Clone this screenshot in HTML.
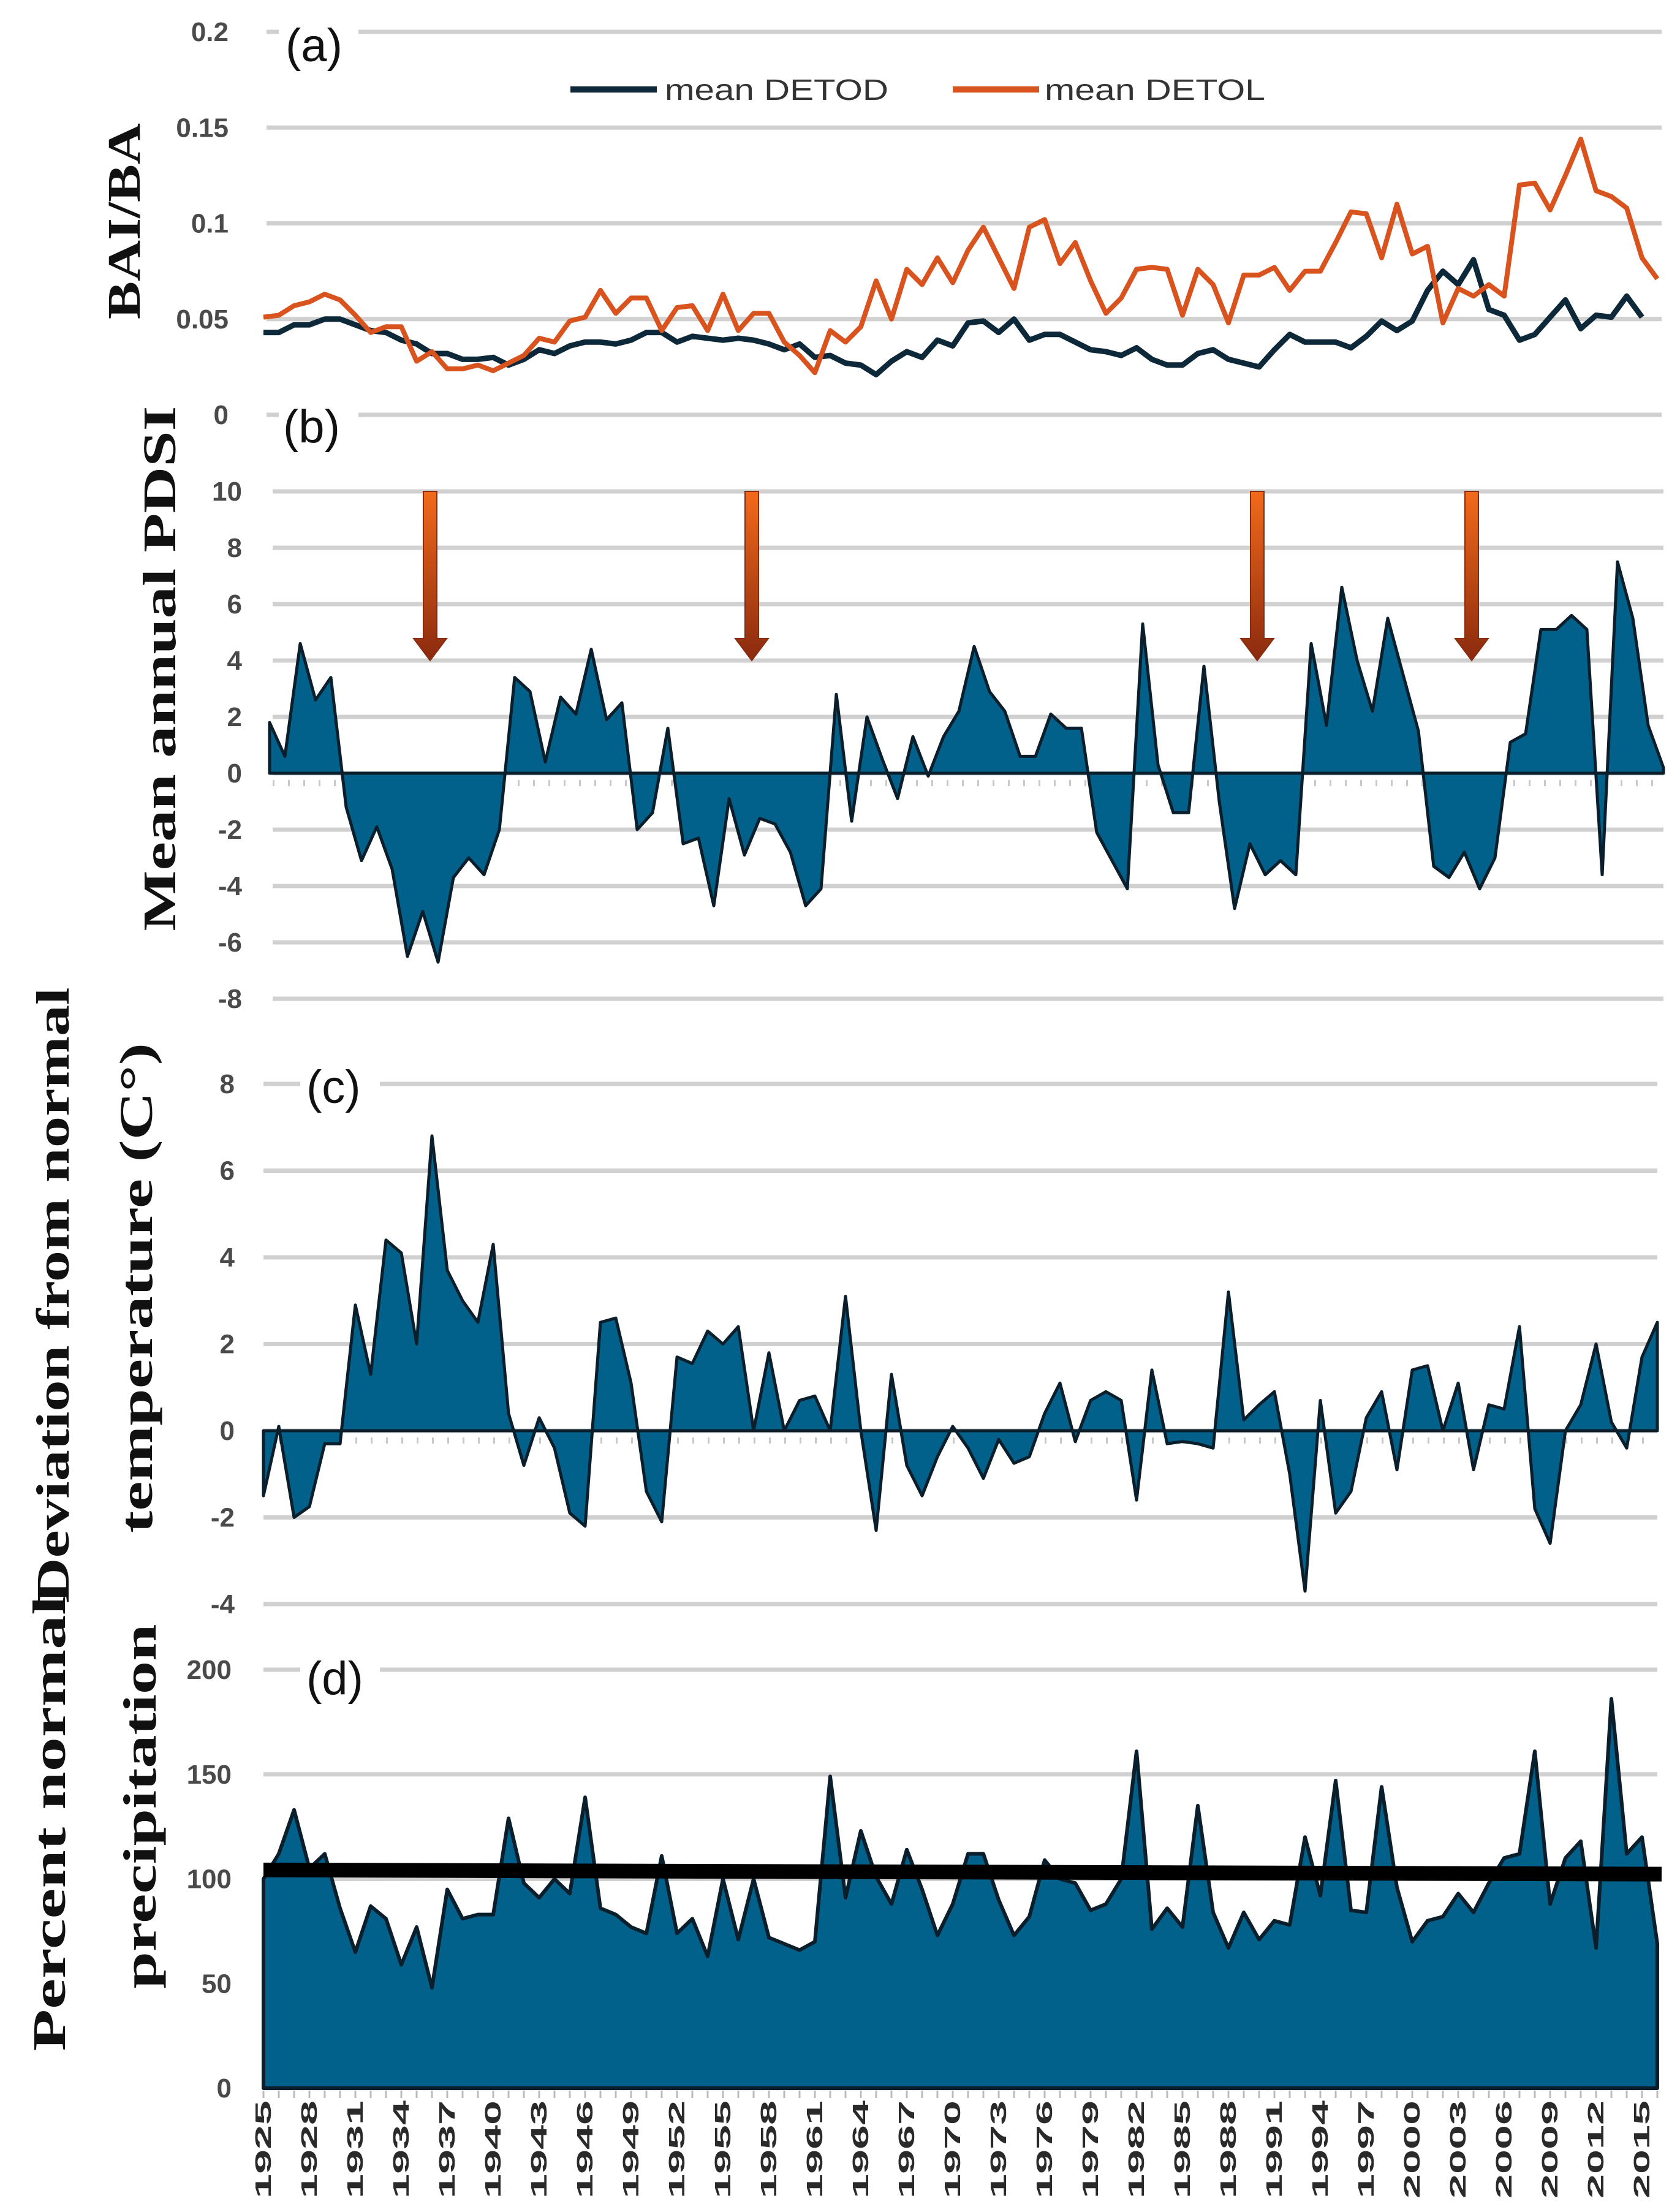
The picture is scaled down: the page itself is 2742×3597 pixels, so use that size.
<!DOCTYPE html>
<html><head><meta charset="utf-8"><title>BAI/BA, PDSI, temperature and precipitation</title>
<style>
html,body{margin:0;padding:0;background:#fff;}
svg{display:block;}
</style></head>
<body>
<svg id="chart" xmlns="http://www.w3.org/2000/svg" width="2742" height="3597" viewBox="0 0 2742 3597">
<defs>
<linearGradient id="arrowGrad" x1="0" y1="0" x2="0" y2="1">
<stop offset="0" stop-color="#f26a1b"/><stop offset="1" stop-color="#8a2a0e"/>
</linearGradient>
</defs>
<g id="grid"></g>
<g id="marks"></g>
<g id="labels"></g>
</svg>
<script>
// ---- data ----
const years = [];
for (let y = 1925; y <= 2016; y++) years.push(y);

const detod = [
0.043,0.043,0.047,0.047,0.050,
0.050,0.047,0.044,0.043,0.039,
0.037,0.032,0.032,0.029,0.029,
0.030,0.026,0.029,0.034,0.032,
0.036,0.038,0.038,0.037,0.039,
0.043,0.043,0.038,0.041,0.040,
0.039,0.040,0.039,0.037,0.034,
0.037,0.030,0.031,0.027,0.026,
0.021,0.028,0.033,0.030,0.039,
0.036,0.048,0.049,0.043,0.050,
0.039,0.042,0.042,0.038,0.034,
0.033,0.031,0.035,0.029,0.026,
0.026,0.032,0.034,0.029,0.027,
0.025,0.034,0.042,0.038,0.038,
0.038,0.035,0.041,0.049,0.044,
0.049,0.065,0.075,0.068,0.081,
0.055,0.052,0.039,0.042,0.051,
0.060,0.045,0.052,0.051,0.062,
0.051];
const detol = [
0.051,0.052,0.057,0.059,0.063,
0.060,0.052,0.043,0.046,0.046,
0.028,0.033,0.024,0.024,0.026,
0.023,0.027,0.031,0.040,0.038,
0.049,0.051,0.065,0.053,0.061,
0.061,0.044,0.056,0.057,0.044,
0.063,0.044,0.053,0.053,0.038,
0.031,0.022,0.044,0.038,0.046,
0.070,0.050,0.076,0.068,0.082,
0.069,0.086,0.098,0.082,0.066,
0.098,0.102,0.079,0.090,0.070,
0.053,0.061,0.076,0.077,0.076,
0.052,0.076,0.068,0.048,0.073,
0.073,0.077,0.065,0.075,0.075,
0.090,0.106,0.105,0.082,0.110,
0.084,0.088,0.048,0.066,0.062,
0.068,0.062,0.120,0.121,0.107,
0.125,0.144,0.117,0.114,0.108,
0.082,0.071];
const pdsi = [
1.8,0.6,4.6,2.6,3.4,
-1.2,-3.1,-1.9,-3.4,-6.5,
-4.9,-6.7,-3.7,-3.0,-3.6,
-2.0,3.4,2.9,0.4,2.7,
2.1,4.4,1.9,2.5,-2.0,
-1.4,1.6,-2.5,-2.3,-4.7,
-0.9,-2.9,-1.6,-1.8,-2.8,
-4.7,-4.1,2.8,-1.7,2.0,
0.5,-0.9,1.3,-0.1,1.3,
2.2,4.5,2.9,2.2,0.6,
0.6,2.1,1.6,1.6,-2.1,
-3.1,-4.1,5.3,0.3,-1.4,
-1.4,3.8,-1.0,-4.8,-2.5,
-3.6,-3.1,-3.6,4.6,1.7,
6.6,4.0,2.2,5.5,3.5,
1.5,-3.3,-3.7,-2.8,-4.1,
-3.0,1.1,1.4,5.1,5.1,
5.6,5.1,-3.6,7.5,5.5,
1.7,0.2];
const tempDev = [
-1.5,0.1,-2.0,-1.75,-0.3,
-0.3,2.9,1.3,4.4,4.1,
2.0,6.8,3.7,3.0,2.5,
4.3,0.4,-0.8,0.3,-0.4,
-1.9,-2.2,2.5,2.6,1.1,
-1.4,-2.1,1.7,1.55,2.3,
2.0,2.4,0.0,1.8,0.0,
0.7,0.8,0.0,3.1,0.0,
-2.3,1.3,-0.8,-1.5,-0.6,
0.1,-0.4,-1.1,-0.2,-0.75,
-0.6,0.4,1.1,-0.25,0.7,
0.9,0.7,-1.6,1.4,-0.3,
-0.25,-0.3,-0.4,3.2,0.25,
0.6,0.9,-1.0,-3.7,0.7,
-1.9,-1.4,0.3,0.9,-0.9,
1.4,1.5,0.0,1.1,-0.9,
0.6,0.5,2.4,-1.8,-2.6,
0.0,0.6,2.0,0.2,-0.4,
1.7,2.5];
const precip = [
100,112,133,105,112,
86,65,87,81,59,
77,48,95,81,83,
83,129,98,91,100,
93,139,86,83,77,
74,111,74,81,63,
100,71,100,72,69,
66,70,149,91,123,
101,88,114,95,73,
88,112,112,90,73,
82,109,100,98,85,
88,100,161,76,86,
77,135,84,67,84,
71,80,78,120,92,
147,85,84,144,96,
70,80,82,93,84,
98,110,112,161,88,
110,118,67,186,112,
120,69];
const precipNormal = [104.3, 102.3];
const droughtYears = [1935, 1956, 1989, 2003];

const ticksA = [0, 0.05, 0.1, 0.15, 0.2];
const tickLabelsA = ["0", "0.05", "0.1", "0.15", "0.2"];
const ticksB = [10, 8, 6, 4, 2, 0, -2, -4, -6, -8];
const ticksC = [8, 6, 4, 2, 0, -2, -4];
const ticksD = [0, 50, 100, 150, 200];
const xTickYears = [];
for (let y = 1925; y <= 2015; y += 3) xTickYears.push(y);

// ---- helpers ----
const NS = "http://www.w3.org/2000/svg";
const gGrid = document.getElementById("grid");
const gMarks = document.getElementById("marks");
const gLabels = document.getElementById("labels");
function mk(tag, attrs, parent) {
  const e = document.createElementNS(NS, tag);
  for (const k in attrs) e.setAttribute(k, attrs[k]);
  parent.appendChild(e);
  return e;
}
function linScale(d0, d1, r0, r1) { return v => r0 + (v - d0) * (r1 - r0) / (d1 - d0); }

const panels = {
  a: { x: linScale(1925, 2016, 430, 2705), y: linScale(0, 0.2, 677, 52), gx0: 435, gx1: 2712, labelX: 373 },
  b: { x: linScale(1925, 2016, 440, 2715), y: linScale(0, 10, 1262, 802), gx0: 445, gx1: 2715, labelX: 395 },
  c: { x: linScale(1925, 2016, 430, 2705), y: linScale(0, 8, 2335, 1769), gx0: 430, gx1: 2705, labelX: 383 },
  d: { x: linScale(1925, 2016, 430, 2705), y: linScale(0, 200, 3408, 2725), gx0: 430, gx1: 2705, labelX: 378 }
};

function gridAndTicks(p, ticks, labels, key) {
  ticks.forEach((t, i) => {
    const yy = p.y(t);
    const ln = mk("line", { x1: p.gx0, x2: p.gx1, y1: yy, y2: yy, stroke: "#d0d0d0", "stroke-width": 7 }, gGrid);
    
    
    const tx = mk("text", { x: p.labelX, y: yy + 15, "text-anchor": "end", "font-family": "Liberation Sans, sans-serif", "font-size": 44, "font-weight": "600", fill: "#4a4a4a" }, gLabels);
    tx.textContent = labels ? labels[i] : String(t);
    
    
  });
}
gridAndTicks(panels.a, ticksA, tickLabelsA, "a");
gridAndTicks(panels.b, ticksB, null, "b");
gridAndTicks(panels.c, ticksC, null, "c");
gridAndTicks(panels.d, ticksD, null, "d");

function areaPath(p, vals) {
  const y0 = p.y(0);
  let d = "M" + p.x(years[0]).toFixed(1) + "," + y0.toFixed(1);
  vals.forEach((v, i) => { d += " L" + p.x(years[i]).toFixed(1) + "," + p.y(v).toFixed(1); });
  d += " L" + p.x(years[vals.length - 1]).toFixed(1) + "," + y0.toFixed(1) + " Z";
  return d;
}
function linePath(p, vals) {
  return vals.map((v, i) => (i ? "L" : "M") + p.x(years[i]).toFixed(1) + "," + p.y(v).toFixed(1)).join(" ");
}
function zeroComb(p, key) {
  const yy = p.y(0) + 16;
  const ln = mk("line", { x1: p.gx0, x2: p.gx1, y1: yy, y2: yy, stroke: "#c8c8c8", "stroke-width": 10, "stroke-dasharray": "3 22" }, gGrid);
  
  
}
zeroComb(panels.b, "b");
zeroComb(panels.c, "c");

// panel a lines
const lineD = mk("path", { d: linePath(panels.a, detod), fill: "none", stroke: "#0d2838", "stroke-width": 9, "stroke-linejoin": "round" }, gMarks);


const lineL = mk("path", { d: linePath(panels.a, detol), fill: "none", stroke: "#d9531e", "stroke-width": 8, "stroke-linejoin": "round" }, gMarks);



// areas
const areaB = mk("path", { d: areaPath(panels.b, pdsi), fill: "#02618a", stroke: "#0a1e2c", "stroke-width": 5, "stroke-linejoin": "round" }, gMarks);


const areaC = mk("path", { d: areaPath(panels.c, tempDev), fill: "#02618a", stroke: "#0a1e2c", "stroke-width": 5, "stroke-linejoin": "round" }, gMarks);


const areaD = mk("path", { d: areaPath(panels.d, precip), fill: "#02618a", stroke: "#0a1e2c", "stroke-width": 6, "stroke-linejoin": "round" }, gMarks);


const normLine = mk("line", { x1: 430, x2: 2712, y1: panels.d.y(precipNormal[0]), y2: panels.d.y(precipNormal[1]), stroke: "#000", "stroke-width": 24 }, gMarks);



// drought arrows
droughtYears.forEach(yr => {
  const cx = panels.b.x(yr) + 12;
  const top = panels.b.y(10), tip = panels.b.y(4);
  const d = `M${cx-11},${top} L${cx+11},${top} L${cx+11},${tip-36} L${cx+27},${tip-36} L${cx},${tip} L${cx-27},${tip-36} L${cx-11},${tip-36} Z`;
  const a = mk("path", { d: d, fill: "url(#arrowGrad)", stroke: "#8a2a0e", "stroke-width": 2 }, gMarks);
  
  
});

// x axis labels
xTickYears.forEach(yr => {
  const x = panels.d.x(yr);
  const t = mk("text", { x: 0, y: 0, transform: `translate(${x + 12},3428) rotate(-90)`, "text-anchor": "end", "font-family": "Liberation Sans, sans-serif", "font-weight": "bold", "font-size": 36, fill: "#2a2a2a", textLength: 160, lengthAdjust: "spacingAndGlyphs" }, gLabels);
  t.textContent = String(yr);
  
  
});
years.forEach(yr => {
  const x = panels.d.x(yr);
  const tk = mk("line", { x1: x, x2: x, y1: 3412, y2: 3424, stroke: "#bbb", "stroke-width": 3 }, gGrid);
  
  
});
</script>

<!-- static labels -->
<svg style="position:absolute;left:0;top:0" width="2742" height="3597" xmlns="http://www.w3.org/2000/svg">
<g font-family="Liberation Sans, sans-serif" font-size="76" fill="#111">
<rect x="455" y="30" width="130" height="90" fill="#fff"/>
<text x="466" y="100">(a)</text>
<rect x="455" y="640" width="130" height="100" fill="#fff"/>
<text x="462" y="722">(b)</text>
<rect x="490" y="1725" width="130" height="95" fill="#fff"/>
<text x="500" y="1800">(c)</text>
<rect x="490" y="2690" width="130" height="95" fill="#fff"/>
<text x="500" y="2765">(d)</text>
</g>
<g>
<line x1="931" y1="146" x2="1072" y2="146" stroke="#0d2838" stroke-width="10"/>
<text x="1085" y="163" font-family="Liberation Sans, sans-serif" font-size="48" fill="#333" textLength="365" lengthAdjust="spacingAndGlyphs">mean DETOD</text>
<line x1="1555" y1="146" x2="1696" y2="146" stroke="#d9531e" stroke-width="10"/>
<text x="1705" y="163" font-family="Liberation Sans, sans-serif" font-size="48" fill="#333" textLength="360" lengthAdjust="spacingAndGlyphs">mean DETOL</text>
</g>
<g font-family="Liberation Serif, serif" font-weight="bold" font-size="76" fill="#111" text-anchor="middle">
<text transform="translate(228,361) rotate(-90)" textLength="320" lengthAdjust="spacingAndGlyphs">BAI/BA</text>
<text transform="translate(286,1091) rotate(-90)" textLength="857" lengthAdjust="spacingAndGlyphs">Mean annual PDSI</text>
<text transform="translate(112,2114) rotate(-90)" textLength="1005" lengthAdjust="spacingAndGlyphs">Deviation from normal</text>
<text transform="translate(248,2102) rotate(-90)" textLength="800" lengthAdjust="spacingAndGlyphs">temperature (C°)</text>
<text transform="translate(106,2976) rotate(-90)" textLength="743" lengthAdjust="spacingAndGlyphs">Percent normal</text>
<text transform="translate(254,2948) rotate(-90)" textLength="595" lengthAdjust="spacingAndGlyphs">precipitation</text>
</g>
</svg>
</body></html>
